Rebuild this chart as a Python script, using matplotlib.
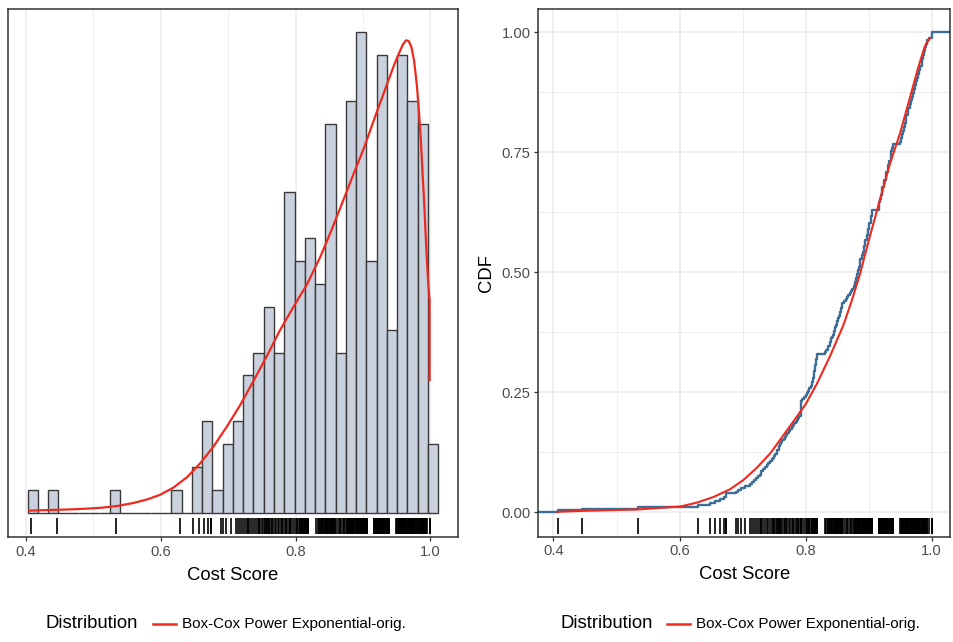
import numpy as np
import matplotlib
matplotlib.use("Agg")
import matplotlib.pyplot as plt
from matplotlib.lines import Line2D

plt.rcParams['font.family'] = ['Liberation Sans', 'DejaVu Sans']

# cost scores (distinct values and how often each one occurs)
score_values = [0.407, 0.446, 0.534, 0.629, 0.648, 0.657, 0.664, 0.670, 0.674, 0.689,
                0.693, 0.697, 0.704, 0.711, 0.715, 0.718, 0.721, 0.724, 0.727, 0.729,
                0.733, 0.736, 0.739, 0.741, 0.744, 0.746, 0.748, 0.750, 0.752, 0.754,
                0.755, 0.757, 0.758, 0.760, 0.761, 0.763, 0.765, 0.767, 0.769, 0.771,
                0.774, 0.776, 0.778, 0.780, 0.782, 0.784, 0.786, 0.788, 0.790, 0.792,
                0.795, 0.797, 0.800, 0.802, 0.804, 0.806, 0.808, 0.810, 0.812, 0.813,
                0.814, 0.815, 0.816, 0.818, 0.831, 0.833, 0.835, 0.836, 0.838, 0.839,
                0.840, 0.841, 0.842, 0.843, 0.845, 0.847, 0.848, 0.850, 0.852, 0.853,
                0.854, 0.856, 0.857, 0.858, 0.861, 0.864, 0.866, 0.868, 0.870, 0.872,
                0.874, 0.876, 0.878, 0.880, 0.881, 0.883, 0.884, 0.886, 0.887, 0.889,
                0.891, 0.893, 0.895, 0.897, 0.899, 0.901, 0.903, 0.904, 0.906, 0.916,
                0.918, 0.919, 0.921, 0.922, 0.924, 0.925, 0.927, 0.928, 0.930, 0.931,
                0.933, 0.935, 0.936, 0.937, 0.938, 0.949, 0.951, 0.953, 0.954, 0.956,
                0.957, 0.959, 0.960, 0.962, 0.963, 0.965, 0.967, 0.969, 0.970, 0.972,
                0.973, 0.975, 0.976, 0.978, 0.980, 0.982, 0.984, 0.985, 0.987, 0.988,
                0.990, 0.991, 0.993, 0.995, 1.000]
score_reps = [1, 1, 1, 1, 1, 1, 1, 1, 2, 1,
              1, 1, 1, 1, 1, 1, 1, 1, 1, 2,
              1, 1, 1, 1, 1, 1, 1, 1, 1, 1,
              1, 1, 1, 1, 1, 1, 1, 1, 1, 1,
              1, 1, 1, 1, 1, 1, 1, 1, 1, 8,
              1, 1, 1, 1, 1, 2, 1, 2, 2, 1,
              3, 3, 3, 3, 1, 1, 1, 1, 1, 1,
              1, 1, 1, 1, 2, 2, 1, 2, 2, 1,
              2, 2, 1, 2, 1, 1, 1, 1, 1, 1,
              1, 2, 2, 2, 2, 2, 2, 2, 2, 2,
              2, 3, 3, 3, 3, 3, 2, 2, 3, 4,
              2, 2, 2, 2, 2, 2, 2, 2, 2, 2,
              2, 2, 3, 2, 2, 1, 2, 2, 2, 2,
              2, 2, 2, 2, 2, 2, 2, 2, 2, 2,
              2, 2, 2, 2, 2, 2, 2, 2, 2, 2,
              2, 2, 2, 1, 3]

# fitted Box-Cox power exponential density (on the count scale)
dens_x = [0.405, 0.440, 0.473, 0.510, 0.535, 0.559, 0.580, 0.599, 0.619, 0.639,
          0.658, 0.678, 0.698, 0.718, 0.738, 0.758, 0.777, 0.797, 0.817, 0.837,
          0.854, 0.871, 0.886, 0.901, 0.921, 0.936, 0.946, 0.953, 0.959, 0.964,
          0.968, 0.972, 0.976, 0.980, 0.983, 0.986, 0.988, 0.991, 0.993, 0.995,
          0.997, 0.999, 0.999]
dens_y = [0.09, 0.12, 0.15, 0.21, 0.29, 0.42, 0.58, 0.78, 1.10, 1.55,
          2.14, 2.88, 3.76, 4.71, 5.78, 6.88, 7.98, 9.00, 9.98, 11.20,
          12.40, 13.67, 14.80, 15.90, 17.55, 18.75, 19.55, 20.05, 20.45, 20.65,
          20.62, 20.35, 19.75, 18.70, 17.60, 16.30, 15.10, 13.50, 12.20, 11.00,
          10.00, 9.30, 5.80]

# fitted CDF
cdf_x = [0.406, 0.446, 0.534, 0.601, 0.627, 0.654, 0.680, 0.701, 0.722, 0.744,
         0.759, 0.781, 0.800, 0.818, 0.839, 0.860, 0.873, 0.886, 0.902, 0.918,
         0.934, 0.950, 0.966, 0.979, 0.989, 0.997]
cdf_y = [0.001, 0.003, 0.006, 0.012, 0.020, 0.032, 0.048, 0.067, 0.092, 0.123,
         0.150, 0.190, 0.225, 0.268, 0.326, 0.390, 0.440, 0.495, 0.575, 0.651,
         0.727, 0.790, 0.866, 0.928, 0.970, 0.988]

scores = np.repeat(score_values, score_reps)

red = '#EE2A1F'
blue = '#3C6E97'
grid_col = '#EBEBEB'
frame_col = '#333333'
tick_col = '#4D4D4D'

fig = plt.figure(figsize=(9.54, 6.42), dpi=100)
ax1 = fig.add_axes([8 / 954, 1 - 537 / 642, 450 / 954, 528 / 642])
ax2 = fig.add_axes([538.3 / 954, 1 - 536.7 / 642, 411.7 / 954, 527.7 / 642])

for ax in (ax1, ax2):
    ax.set_xticks([0.4, 0.6, 0.8, 1.0])
    ax.set_xticklabels(['0.4', '0.6', '0.8', '1.0'])
    ax.set_xticks([0.5, 0.7, 0.9], minor=True)
    ax.tick_params(axis='both', which='major', length=3, width=0.9, color=frame_col,
                   labelsize=10.6, labelcolor=tick_col, pad=2.5)
    ax.tick_params(axis='both', which='minor', length=0)
    ax.set_axisbelow(True)
    for s in ax.spines.values():
        s.set_color(frame_col)
        s.set_linewidth(1.1)
    ax.set_xlabel('Cost Score', fontsize=13.3, color='black')
    ax.xaxis.set_label_coords(0.5, -0.056)

# histogram with density
ax1.grid(axis='x', which='major', color=grid_col, lw=1.1)
ax1.grid(axis='x', which='minor', color=grid_col, lw=0.6)
ax1.hist(scores, bins=40, range=(0.4025, 1.0117), color='#C9D1DE',
         edgecolor='#3A3A3A', linewidth=1.0)
ax1.plot(dens_x, dens_y, color=red, lw=1.6)
ax1.vlines(scores, 0.006, 0.036, transform=ax1.get_xaxis_transform(),
           color='black', lw=1.2)
ax1.set_xlim(0.3733, 1.0411)
ax1.set_ylim(-1.064, 22.02)
ax1.set_yticks([])

# empirical vs fitted CDF
ax2.set_yticks([0, 0.25, 0.5, 0.75, 1.0])
ax2.set_yticklabels(['0.00', '0.25', '0.50', '0.75', '1.00'])
ax2.set_yticks([0.125, 0.375, 0.625, 0.875], minor=True)
ax2.grid(which='major', color=grid_col, lw=1.1)
ax2.grid(which='minor', color=grid_col, lw=0.6)
ax2.set_xlim(0.3759, 1.0291)
ax2.set_ylim(-0.0508, 1.0485)
xs = np.sort(scores)
lo, hi = ax2.get_xlim()
ecdf_x = np.concatenate([[lo], xs, [hi]])
ecdf_y = np.concatenate([[0], np.arange(1, len(xs) + 1) / len(xs), [1]])
ax2.step(ecdf_x, ecdf_y, where='post', color=blue, lw=1.7)
ax2.plot(cdf_x, cdf_y, color=red, lw=1.5)
ax2.vlines(scores, 0.006, 0.036, transform=ax2.get_xaxis_transform(),
           color='black', lw=1.2)
fig.text(487 / 954, 1 - 273 / 642, 'CDF', rotation=90, ha='center', va='center',
         fontsize=13.3)

# legends under each panel
for x0 in (46, 560):
    y = 1 - 624 / 642
    fig.text(x0 / 954, y, 'Distribution', fontsize=13.3, ha='left', va='center')
    fig.add_artist(Line2D([(x0 + 107) / 954, (x0 + 130) / 954], [y, y],
                          color=red, lw=1.8, transform=fig.transFigure))
    fig.text((x0 + 136) / 954, y, 'Box-Cox Power Exponential-orig.', fontsize=11,
             ha='left', va='center')

fig.savefig('out.png', dpi=100)
